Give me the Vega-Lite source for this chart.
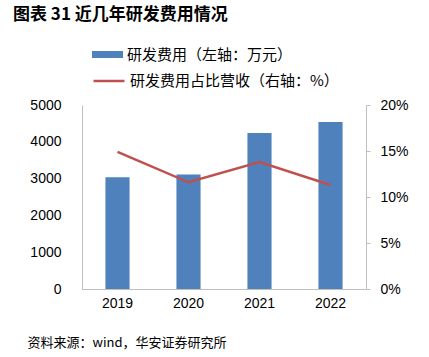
{
  "$schema": "https://vega.github.io/schema/vega-lite/v6.json",
  "width": 284,
  "height": 184,
  "autosize": {"type": "none"},
  "padding": {"left": 82, "top": 105, "right": 63, "bottom": 68},
  "background": "white",
  "config": {
    "view": {"stroke": null},
    "font": "Liberation Sans"
  },
  "title": {
    "text": "图表 31 近几年研发费用情况",
    "anchor": "start",
    "frame": "group",
    "dx": -69,
    "offset": 15,
    "font": "Noto Sans CJK SC",
    "fontSize": 17,
    "fontWeight": "bold",
    "color": "#000000"
  },
  "data": {
    "values": [
      {"year": "2019", "cost": 3040, "ratio": 0.149},
      {"year": "2020", "cost": 3110, "ratio": 0.116},
      {"year": "2021", "cost": 4240, "ratio": 0.138},
      {"year": "2022", "cost": 4540, "ratio": 0.113}
    ]
  },
  "encoding": {
    "x": {
      "field": "year",
      "type": "nominal",
      "scale": {"paddingInner": 0.66, "paddingOuter": 0.33},
      "axis": {
        "labelAngle": 0,
        "labelFontSize": 14,
        "labelColor": "#000000",
        "labelPadding": 7,
        "ticks": false,
        "domainColor": "#BFBFBF",
        "title": "资料来源：wind，华安证券研究所",
        "titleFont": "Noto Sans CJK SC",
        "titleFontSize": 13,
        "titleFontWeight": "normal",
        "titleColor": "#000000",
        "titleX": -55,
        "titleY": 53,
        "titleAlign": "left",
        "titleBaseline": "middle"
      }
    }
  },
  "layer": [
    {
      "mark": {"type": "bar"},
      "encoding": {
        "y": {
          "field": "cost",
          "type": "quantitative",
          "scale": {"domain": [0, 5000]},
          "axis": {
            "values": [0, 1000, 2000, 3000, 4000, 5000],
            "format": "d",
            "title": null,
            "grid": false,
            "ticks": false,
            "tickSize": 0,
            "labelPadding": 21,
            "labelFontSize": 14,
            "labelColor": "#000000",
            "domainColor": "#BFBFBF"
          }
        },
        "fill": {
          "datum": "研发费用（左轴：万元）",
          "scale": {"range": ["#4F81BD"]},
          "legend": {
            "orient": "none",
            "legendX": 10,
            "legendY": -66,
            "title": null,
            "symbolType": "M-1,-0.226H1V0.226H-1Z",
            "symbolSize": 961,
            "symbolStrokeWidth": 0,
            "labelFont": "Noto Sans CJK SC",
            "labelFontSize": 15,
            "labelLimit": 400,
            "labelColor": "#000000",
            "labelOffset": 4
          }
        }
      }
    },
    {
      "mark": {"type": "line", "strokeWidth": 2.5},
      "encoding": {
        "y": {
          "field": "ratio",
          "type": "quantitative",
          "scale": {"domain": [0, 0.2]},
          "axis": {
            "orient": "right",
            "values": [0, 0.05, 0.1, 0.15, 0.2],
            "format": ".0%",
            "title": null,
            "grid": false,
            "tickSize": 4,
            "tickColor": "#BFBFBF",
            "labelPadding": 10,
            "labelFontSize": 14,
            "labelColor": "#000000",
            "domainColor": "#BFBFBF"
          }
        },
        "stroke": {
          "datum": "研发费用占比营收（右轴：%）",
          "scale": {"range": ["#C0504D"]},
          "legend": {
            "orient": "none",
            "legendX": 10,
            "legendY": -41,
            "title": null,
            "symbolType": "stroke",
            "symbolSize": 961,
            "symbolStrokeWidth": 2.5,
            "labelFont": "Noto Sans CJK SC",
            "labelFontSize": 15,
            "labelLimit": 400,
            "labelColor": "#000000",
            "labelOffset": 4
          }
        }
      }
    }
  ],
  "resolve": {"scale": {"y": "independent"}}
}
